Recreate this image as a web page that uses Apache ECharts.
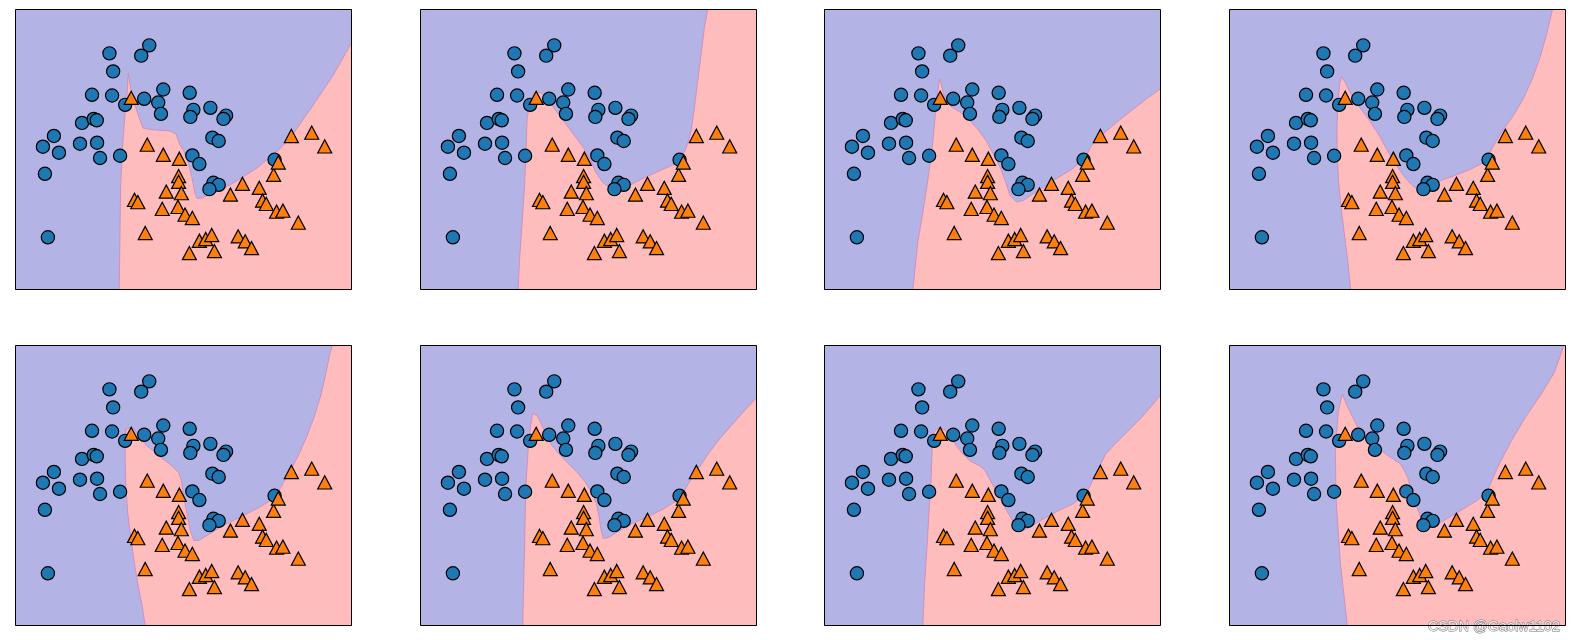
<!DOCTYPE html>
<html>
<head>
<meta charset="utf-8">
<script src="https://cdn.jsdelivr.net/npm/echarts@6/dist/echarts.min.js"></script>
<style>
html,body{margin:0;padding:0;background:#fff;}
#chart{width:1574px;height:640px;}
</style>
</head>
<body>
<div id="chart"></div>
<script>
// Class 0 points (circles)
const class0Points = [
  [-0.323,1.358],[0.173,1.438],[0.073,1.335],[-0.277,1.178],[-0.540,0.945],[-0.290,0.938],
  [-0.127,0.845],[0.110,0.905],[0.348,0.998],[0.285,0.868],[0.319,0.755],[0.677,0.965],
  [0.723,0.795],[0.685,0.725],[0.935,0.815],[1.131,0.738],[1.098,0.705],[-0.665,0.665],
  [-0.519,0.705],[-0.481,0.691],[-1.015,0.535],[-1.152,0.428],[-0.952,0.368],[-0.690,0.458],
  [-0.477,0.468],[-0.440,0.315],[-0.190,0.338],[-1.127,0.158],[-1.090,-0.475],[0.960,0.518],
  [1.039,0.485],[0.710,0.341],[0.798,0.255],[0.973,0.068],[1.039,0.048],[0.923,0.005],
  [1.735,0.298]
];
// Class 1 points (triangles)
const class1Points = [
  [-0.052,0.915],[0.148,0.448],[0.348,0.348],[0.548,0.308],[0.539,0.135],[0.539,0.078],
  [0.385,-0.019],[0.573,-0.035],[-0.011,-0.102],[0.031,-0.125],[0.335,-0.192],[0.531,-0.172],
  [0.619,-0.249],[0.710,-0.282],[0.123,-0.432],[0.798,-0.509],[0.877,-0.492],[0.952,-0.452],
  [0.673,-0.632],[0.985,-0.612],[1.281,-0.465],[1.369,-0.515],[1.448,-0.582],[1.185,-0.049],
  [1.335,0.058],[1.544,0.018],[1.585,-0.109],[1.631,-0.142],[1.760,-0.219],[1.839,-0.209],
  [2.031,-0.329],[1.723,0.148],[1.781,0.271],[1.944,0.535],[2.198,0.568],[2.360,0.431]
];

// Axis ranges (shared by all panels)
const xRange = [-1.5, 2.7];
const yRange = [-1.0, 1.8];

// Decision boundaries: from bottom edge to right or top edge
const boundary1 = [[-0.201,-1.0],[-0.183,0.047],[-0.158,0.445],[-0.130,0.744],[-0.101,0.976],[-0.089,1.160],
  [-0.059,1.010],[-0.005,0.844],[0.057,0.694],[0.098,0.612],[0.223,0.595],[0.431,0.585],[0.506,0.555],
  [0.556,0.445],[0.597,0.396],[0.660,0.266],[0.702,0.130],[0.743,-0.036],[0.768,-0.087],[0.827,-0.085],
  [1.180,0.047],[1.512,0.213],[1.762,0.376],[1.928,0.512],[2.218,0.844],[2.468,1.143],[2.7,1.471]];
const boundary2 = [[-0.277,-1.0],[-0.261,-0.725],[-0.227,-0.325],[-0.194,0.075],[-0.177,0.408],[-0.165,0.708],
  [-0.132,0.858],[-0.082,0.968],[0.002,0.968],[0.085,0.908],[0.189,0.791],[0.314,0.658],[0.439,0.525],
  [0.544,0.408],[0.627,0.291],[0.689,0.175],[0.773,0.075],[0.877,0.008],[0.981,-0.009],[1.106,0.041],
  [1.314,0.125],[1.564,0.215],[1.731,0.275],[1.814,0.408],[1.877,0.575],[1.919,0.808],[1.960,1.075],
  [2.002,1.341],[2.044,1.608],[2.085,1.8]];
const boundary3 = [[-0.393,-1.0],[-0.331,-0.525],[-0.247,-0.125],[-0.185,0.208],[-0.143,0.475],[-0.114,0.741],
  [-0.089,0.941],[-0.060,1.101],[-0.031,1.025],[0.011,0.891],[0.086,0.825],[0.190,0.775],[0.315,0.691],
  [0.428,0.591],[0.524,0.481],[0.619,0.341],[0.703,0.208],[0.765,0.075],[0.819,-0.059],[0.899,-0.125],
  [0.982,-0.109],[1.169,-0.009],[1.378,0.101],[1.586,0.201],[1.753,0.315],[1.836,0.441],[1.961,0.541],
  [2.128,0.658],[2.336,0.791],[2.524,0.908],[2.7,1.008]];
const boundary4 = [[0.016,-1.0],[-0.017,-0.725],[-0.059,-0.459],[-0.101,-0.192],[-0.134,0.075],[-0.151,0.341],
  [-0.155,0.608],[-0.142,0.875],[-0.122,1.041],[-0.101,1.125],[-0.051,1.068],[0.016,0.958],[0.108,0.841],
  [0.233,0.708],[0.358,0.558],[0.462,0.408],[0.545,0.291],[0.629,0.191],[0.724,0.091],[0.816,0.018],
  [0.941,0.025],[1.108,0.081],[1.316,0.141],[1.524,0.208],[1.691,0.275],[1.774,0.408],[1.899,0.575],
  [2.033,0.725],[2.158,0.891],[2.274,1.091],[2.379,1.325],[2.462,1.558],[2.533,1.8]];
const boundary5 = [[0.124,-1.0],[0.082,-0.787],[0.032,-0.587],[-0.009,-0.387],[-0.051,-0.154],[-0.093,0.113],
  [-0.118,0.380],[-0.126,0.613],[-0.126,0.813],[-0.114,0.963],[-0.034,0.980],[0.032,0.896],[0.145,0.796],
  [0.291,0.696],[0.437,0.606],[0.541,0.530],[0.574,0.446],[0.603,0.280],[0.645,0.113],[0.687,-0.054],
  [0.728,-0.147],[0.791,-0.147],[0.916,-0.087],[1.082,-0.004],[1.332,0.096],[1.541,0.180],[1.728,0.273],
  [1.811,0.380],[1.895,0.496],[2.020,0.680],[2.132,0.880],[2.228,1.080],[2.311,1.296],[2.374,1.513],
  [2.424,1.713],[2.457,1.8]];
const boundary6 = [[-0.220,-1.0],[-0.208,-0.587],[-0.195,-0.187],[-0.187,0.213],[-0.174,0.480],[-0.153,0.746],
  [-0.124,0.980],[-0.095,1.120],[-0.041,1.096],[0.013,1.013],[0.072,0.896],[0.147,0.796],[0.251,0.696],
  [0.355,0.613],[0.459,0.530],[0.563,0.430],[0.638,0.330],[0.697,0.220],[0.730,0.096],[0.755,-0.037],
  [0.784,-0.127],[0.847,-0.120],[0.959,-0.064],[1.126,0.013],[1.334,0.086],[1.543,0.170],[1.722,0.263],
  [1.805,0.363],[1.876,0.463],[1.980,0.580],[2.105,0.730],[2.251,0.880],[2.397,1.013],[2.543,1.146],
  [2.7,1.280]];
const boundary7 = [[-0.268,-1.0],[-0.247,-0.587],[-0.214,-0.187],[-0.185,0.213],[-0.164,0.480],[-0.152,0.746],
  [-0.139,0.920],[-0.081,0.973],[-0.006,0.963],[0.065,0.896],[0.149,0.796],[0.232,0.713],[0.315,0.646],
  [0.440,0.596],[0.511,0.546],[0.565,0.463],[0.628,0.373],[0.690,0.273],[0.753,0.180],[0.815,0.096],
  [0.878,0.013],[0.953,-0.054],[1.044,-0.027],[1.211,0.056],[1.399,0.140],[1.594,0.213],[1.753,0.296],
  [1.815,0.396],[1.911,0.553],[2.011,0.713],[2.128,0.813],[2.294,0.946],[2.461,1.080],[2.586,1.196],
  [2.7,1.306]];
const boundary8 = [[-0.025,-1.0],[-0.112,-0.369],[-0.163,0.234],[-0.175,0.736],[-0.137,1.137],[-0.088,1.308],
  [-0.013,1.167],[0.100,0.987],[0.263,0.836],[0.450,0.716],[0.638,0.615],[0.725,0.485],[0.800,0.284],
  [0.888,0.083],[0.975,-0.027],[1.100,0.013],[1.350,0.133],[1.600,0.254],[1.725,0.354],[1.850,0.585],
  [2.013,0.836],[2.200,1.087],[2.388,1.308],[2.550,1.519],[2.650,1.740],[2.675,1.8]];

const boundaries = [boundary1, boundary2, boundary3, boundary4, boundary5, boundary6, boundary7, boundary8];

const gridLefts = [15, 420, 824, 1229];
const gridTops = [9, 345];
const gridW = 337, gridH = 281;

const chart = echarts.init(document.getElementById('chart'), null, {renderer: 'canvas'});

const grids = [], xAxes = [], yAxes = [], series = [];

function regionPolygon(b) {
  const last = b[b.length - 1];
  const pts = b.slice();
  if (last[1] >= yRange[1] && last[0] < xRange[1]) pts.push([xRange[1], yRange[1]]);
  pts.push([xRange[1], yRange[0]]);
  return pts;
}

boundaries.forEach((b, i) => {
  const row = Math.floor(i / 4), col = i % 4;
  grids.push({
    left: gridLefts[col], top: gridTops[row], width: gridW, height: gridH,
    show: true, backgroundColor: '#b3b3e6', borderWidth: 0
  });
  xAxes.push({type: 'value', gridIndex: i, min: xRange[0], max: xRange[1], show: false});
  yAxes.push({type: 'value', gridIndex: i, min: yRange[0], max: yRange[1], show: false});
  const poly = regionPolygon(b);
  series.push({
    type: 'custom', xAxisIndex: i, yAxisIndex: i, silent: true, z: 1,
    data: [[0, 0]],
    renderItem: function (params, api) {
      return {
        type: 'group',
        children: [
          {type: 'polygon', shape: {points: poly.map(p => api.coord(p))}, style: {fill: '#ffbcbc'}},
          {type: 'polyline', shape: {points: b.map(p => api.coord(p))},
           style: {stroke: 'rgba(205,130,185,0.75)', fill: null, lineWidth: 1}}
        ]
      };
    }
  });
  series.push({
    type: 'scatter', xAxisIndex: i, yAxisIndex: i, silent: true, z: 3,
    data: class0Points, symbol: 'circle', symbolSize: 13.2,
    itemStyle: {color: '#1f77b4', borderColor: '#000', borderWidth: 1.2, opacity: 1}
  });
  series.push({
    type: 'scatter', xAxisIndex: i, yAxisIndex: i, silent: true, z: 4,
    data: class1Points, symbol: 'triangle', symbolSize: [14, 13.2],
    itemStyle: {color: '#ff7f0e', borderColor: '#000', borderWidth: 1.2, opacity: 1}
  });
  series.push({
    type: 'custom', xAxisIndex: i, yAxisIndex: i, silent: true, z: 10,
    data: [[0, 0]],
    renderItem: function (params, api) {
      const c = params.coordSys;
      return {type: 'rect', shape: {x: c.x + 0.5, y: c.y + 0.5, width: c.width - 1, height: c.height - 1},
              style: {fill: null, stroke: '#000', lineWidth: 1}};
    }
  });
});

chart.setOption({
  animation: false,
  backgroundColor: '#ffffff',
  title: {
    text: 'CSDN @Gaolw1102', right: 8, top: 614,
    textStyle: {fontSize: 14.5, fontWeight: 'normal', fontFamily: 'Liberation Sans, Arial, sans-serif',
      color: '#f2f2f2', textBorderColor: 'rgba(100,100,100,0.9)', textBorderWidth: 1}
  },
  grid: grids, xAxis: xAxes, yAxis: yAxes, series: series
});
</script>
</body>
</html>
